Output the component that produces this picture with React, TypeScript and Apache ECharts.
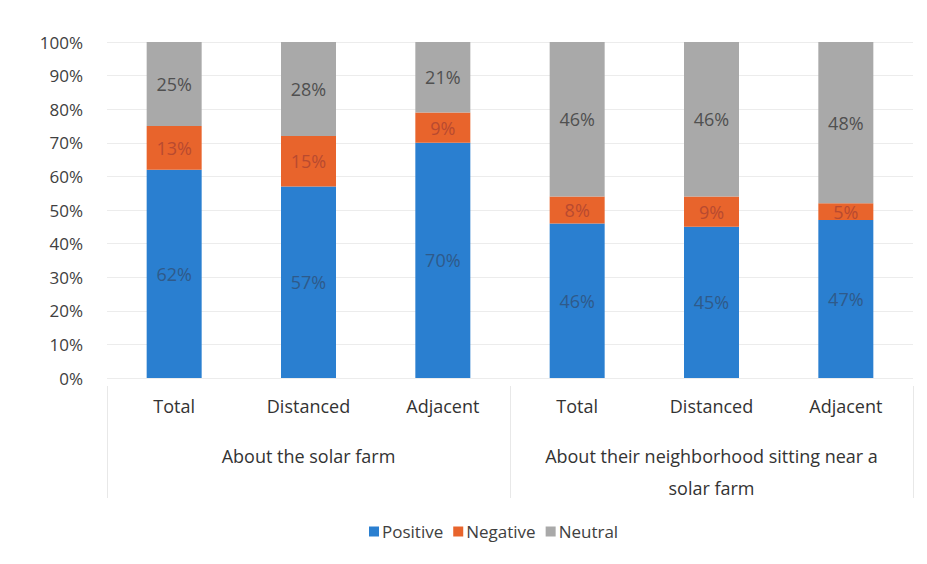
import React, { useEffect, useRef } from "react";
import * as echarts from "echarts";

const categories = ["Total", "Distanced", "Adjacent", "Total", "Distanced", "Adjacent"];
const groups = ["About the solar farm", "About their neighborhood sitting near a\nsolar farm"];
const positive = [62, 57, 70, 46, 45, 47];
const negative = [13, 15, 9, 8, 9, 5];
const neutral = [25, 28, 21, 46, 46, 48];
const seriesNames = ["Positive", "Negative", "Neutral"];

const FONT = "'Open Sans', sans-serif";

export default function App() {
  const ref = useRef<HTMLDivElement>(null);
  useEffect(() => {
    if (!ref.current) return;
    const chart = echarts.init(ref.current, undefined, { renderer: "svg" });
    const mk = (name: string, data: number[], color: string, labelColor: string) => ({
      name,
      type: "bar",
      stack: "total",
      barWidth: 55,
      data,
      itemStyle: { color },
      label: {
        show: true,
        position: "inside",
        formatter: "{c}%",
        color: labelColor,
        fontSize: 18,
        fontFamily: FONT,
      },
    });
    chart.setOption({
      animation: false,
      backgroundColor: "#ffffff",
      textStyle: { fontFamily: FONT },
      grid: { left: 99, right: 22, top: 34, bottom: 194 },
      legend: {
        data: seriesNames,
        top: 510,
        left: 356,
        icon: "rect",
        itemWidth: 10,
        itemHeight: 10,
        itemGap: 10,
        textStyle: { color: "#404040", fontSize: 17, fontFamily: FONT, padding: [0, 0, 0, -2] },
      },
      xAxis: [
        {
          type: "category",
          data: categories,
          axisLine: { show: false },
          axisTick: { show: false },
          axisLabel: { color: "#333333", fontSize: 18, margin: 19, interval: 0, fontFamily: FONT },
        },
        {
          type: "category",
          data: groups,
          position: "bottom",
          offset: 8,
          axisLine: { show: false },
          axisTick: { show: true, length: 112, lineStyle: { color: "#e8e8e8" } },
          axisLabel: {
            color: "#333333",
            fontSize: 18,
            margin: 54,
            lineHeight: 32,
            interval: 0,
            hideOverlap: false,
            fontFamily: FONT,
          },
        },
      ],
      yAxis: {
        type: "value",
        min: 0,
        max: 100,
        interval: 10,
        axisLine: { show: false },
        axisTick: { show: false },
        splitLine: { lineStyle: { color: "#ececec" } },
        axisLabel: { formatter: "{value}%", color: "#404040", fontSize: 17, margin: 24, fontFamily: FONT },
      },
      series: [
        mk(seriesNames[0], positive, "#2a7fd0", "#2f5a8a"),
        mk(seriesNames[1], negative, "#e8642c", "#b84a30"),
        mk(seriesNames[2], neutral, "#a9a9a9", "#505050"),
      ],
    });
    return () => chart.dispose();
  }, []);
  return <div ref={ref} style={{ width: 927, height: 564 }} />;
}
